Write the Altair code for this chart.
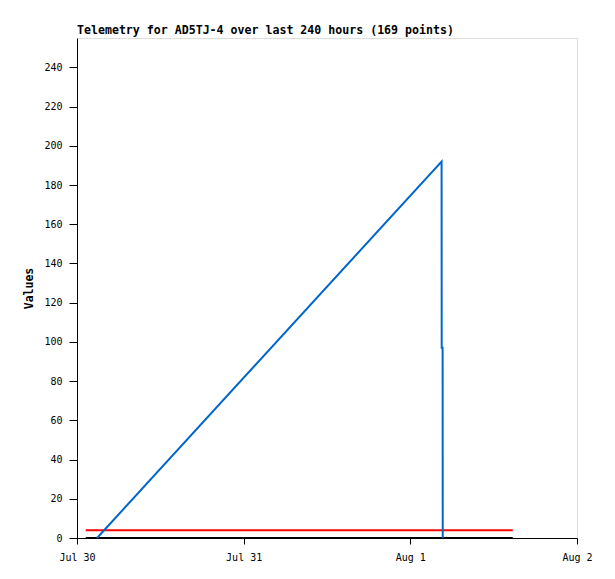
import altair as alt
import pandas as pd

# Data (UTC times)
blue_times = ["2023-07-30T02:53:00Z", "2023-08-01T04:30:00Z", "2023-08-01T04:31:00Z",
              "2023-08-01T04:39:00Z", "2023-08-01T04:40:00Z"]
blue_values = [0, 192, 97, 97, 0]

red_times = ["2023-07-30T01:15:00Z", "2023-08-01T14:45:00Z"]
red_values = [4, 4]

black_times = ["2023-07-30T01:15:00Z", "2023-08-01T14:45:00Z"]
black_values = [0, 0]

y_ticks = [0, 20, 40, 60, 80, 100, 120, 140, 160, 180, 200, 220, 240]

title_text = "Telemetry for AD5TJ-4 over last 240 hours (169 points)"
y_title = "Values"

FONT = "DejaVu Sans Mono"

df_blue = pd.DataFrame({"t": blue_times, "v": blue_values})
df_red = pd.DataFrame({"t": red_times, "v": red_values})
df_black = pd.DataFrame({"t": black_times, "v": black_values})

x_enc = alt.X(
    "t:T",
    scale=alt.Scale(type="utc",
                    domain=[alt.DateTime(year=2023, month=7, date=30, utc=True),
                            alt.DateTime(year=2023, month=8, date=2, utc=True)]),
    axis=alt.Axis(
        values=[alt.DateTime(year=2023, month=7, date=30, utc=True),
                alt.DateTime(year=2023, month=7, date=31, utc=True),
                alt.DateTime(year=2023, month=8, date=1, utc=True),
                alt.DateTime(year=2023, month=8, date=2, utc=True)],
        labelExpr="utcFormat(datum.value, '%b %-d')",
        title=None, grid=False, tickSize=6, labelPadding=8,
        domainColor="black", tickColor="black", labelColor="black",
        labelFont=FONT, labelFontSize=10, labelFlush=False,
    ),
)
y_enc = alt.Y(
    "v:Q",
    scale=alt.Scale(domain=[0, 255], nice=False, zero=True),
    axis=alt.Axis(
        values=y_ticks, title=y_title, grid=False, tickSize=8, labelPadding=7,
        domainColor="black", tickColor="black", labelColor="black",
        labelFont=FONT, labelFontSize=10,
        titleFont=FONT, titleFontSize=11.5, titleFontWeight="bold",
        titleColor="black", titlePadding=9,
    ),
)

black = alt.Chart(df_black).mark_line(color="black", strokeWidth=2).encode(x=x_enc, y=y_enc)
red = alt.Chart(df_red).mark_line(color="#ff0000", strokeWidth=2).encode(x=x_enc, y=y_enc)
blue = alt.Chart(df_blue).mark_line(color="#0066cc", strokeWidth=2).encode(x=x_enc, y=y_enc)

chart = alt.layer(black, red, blue).properties(
    width=500, height=500,
    title=alt.TitleParams(title_text, anchor="start", frame="group", font=FONT, fontSize=11.6,
                          fontWeight="bold", color="black", offset=1),
    autosize=alt.AutoSizeParams(type="none"),
    padding={"left": 69, "top": 30, "right": 30, "bottom": 33},
).configure_view(stroke="#444444", strokeWidth=1).configure(background="white")

chart.save("out.html", embed_options={"renderer": "svg", "actions": False})
